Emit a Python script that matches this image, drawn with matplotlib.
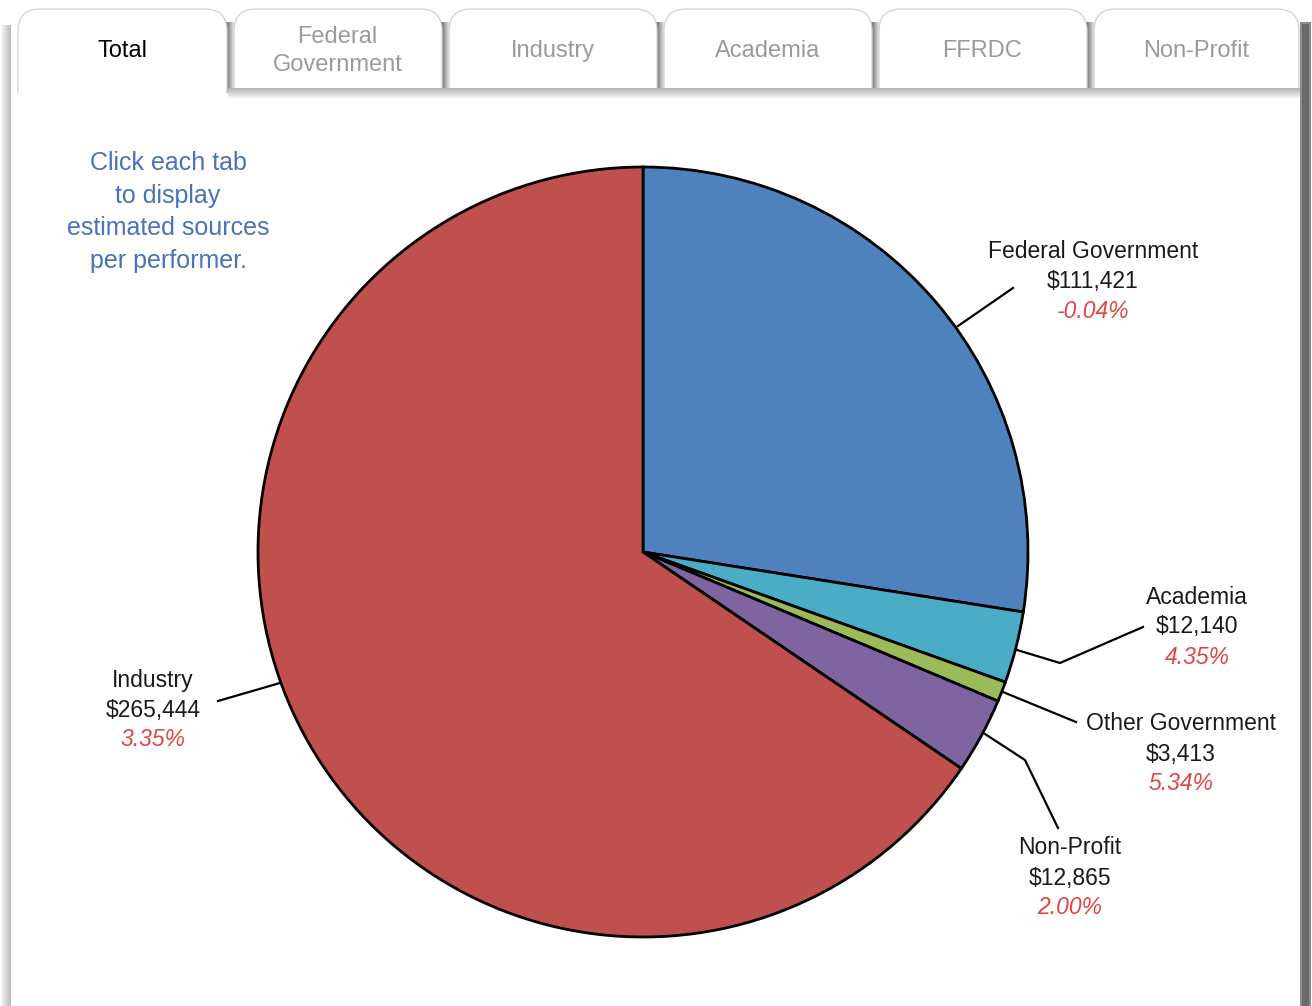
import matplotlib
matplotlib.use("Agg")
import matplotlib.pyplot as plt
from matplotlib.patches import FancyBboxPatch, Rectangle

plt.rcParams['font.family'] = ['Liberation Sans Narrow', 'Liberation Sans', 'DejaVu Sans']

# data
tabs = ["Total", "Federal\nGovernment", "Industry", "Academia", "FFRDC", "Non-Profit"]
sources = ["Federal Government", "Academia", "Other Government", "Non-Profit", "Industry"]
amounts = [111421, 12140, 3413, 12865, 265444]
changes = ["-0.04%", "4.35%", "5.34%", "2.00%", "3.35%"]
colors = ["#4F81BD", "#4BACC6", "#9BBB59", "#8064A2", "#C0504D"]

W, H = 1312, 1006
fig = plt.figure(figsize=(W / 100, H / 100), dpi=100)
ax = fig.add_axes([0, 0, 1, 1])


def Y(p):
    return H - p


# panel side shadows
for i in range(10):
    ax.add_patch(Rectangle((i + 1, 0), 1, Y(25), color=str(0.96 - 0.025 * i), lw=0, zorder=0))
ax.add_patch(Rectangle((1300, 0), 11, Y(22), color="#8c8c8c", lw=0, zorder=0))
ax.add_patch(Rectangle((1302, 0), 7, Y(24), color="#6a6a6a", lw=0, zorder=0))

# tabs
edges = [12, 228, 443, 658, 873, 1088, 1300]
for i, name in enumerate(tabs):
    x0, x1 = edges[i], edges[i + 1]
    if i > 0:
        # shadow cast by the tab on the left
        for k in range(10):
            ax.add_patch(Rectangle((x0 - 3 + k, Y(94)), 1, Y(22) - Y(94),
                                   color=str(0.35 + 0.065 * k), lw=0, zorder=1))
    ax.add_patch(FancyBboxPatch((x0 + 6, Y(130)), x1 - x0 - 7, Y(9) - Y(130),
                                boxstyle="round,pad=0,rounding_size=22",
                                fc="white", ec="#d4d4d4", lw=1.0, zorder=2))
    ax.text((x0 + x1) / 2 + 2, Y(51), name, ha='center', va='center',
            fontsize=17, linespacing=1.3,
            color="black" if i == 0 else "#9a9a9a", zorder=4)

# panel body covers the tab bottoms
ax.add_patch(Rectangle((11, Y(140)), 1289, Y(93) - Y(140), color="white", lw=0, zorder=2.5))
# bottom shadow line under inactive tabs
for k, c in enumerate(["#b8b8b8", "#c6c6c6", "#d4d4d4", "#e2e2e2", "#eeeeee"]):
    ax.add_patch(Rectangle((228, Y(88 + 2 * k) - 2), 1072, 2, color=c, lw=0, zorder=3))

# instruction text
ax.text(168, Y(212), "Click each tab\nto display\nestimated sources\nper performer.",
        ha='center', va='center', fontsize=18, color="#4A72B8", linespacing=1.45)

# pie
cx, cy, r = 643, Y(552), 385
ax.pie(amounts, colors=colors, startangle=90, counterclock=False,
       center=(cx, cy), radius=r, frame=True,
       wedgeprops=dict(edgecolor="black", linewidth=2))
ax.set_xlim(0, W)
ax.set_ylim(0, H)
ax.set_aspect('equal')
ax.axis('off')

# leader lines
leaders = [
    [(958, 326), (1013, 288)],
    [(1017, 650), (1060, 663), (1143, 627)],
    [(1003, 692), (1076, 722)],
    [(985, 734), (1025, 760), (1058, 828)],
    [(218, 701), (280, 683)],
]
for pts in leaders:
    ax.plot([p[0] for p in pts], [Y(p[1]) for p in pts], color="black", lw=1.6, zorder=5)

# labels
label_pos = [(1093, 251), (1197, 597), (1181, 724), (1070, 848), (153, 680)]
for name, amt, chg, (lx, ly) in zip(sources, amounts, changes, label_pos):
    ax.text(lx, Y(ly), name, ha='center', va='center', fontsize=16.5, color="#1a1a1a")
    ax.text(lx, Y(ly + 30), "${:,}".format(amt), ha='center', va='center',
            fontsize=16.5, color="#1a1a1a")
    ax.text(lx, Y(ly + 60), chg, ha='center', va='center', fontsize=16.5,
            color="#E04545", style='italic')

fig.savefig("out.png", dpi=100, facecolor="white")
